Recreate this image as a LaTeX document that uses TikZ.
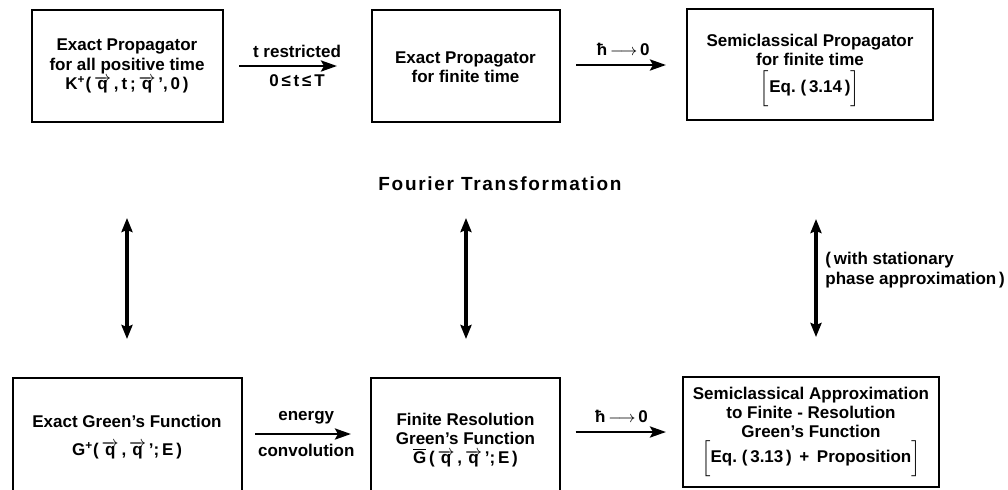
\documentclass[tikz,border=0pt]{standalone}
\usepackage{fontspec}
\setmainfont{Liberation Sans}
\usetikzlibrary{arrows.meta,calc}
\newcommand\vq{\ensuremath{\overrightarrow{\mbox{q}}}}
\newcommand\hto{ħ\,\(\longrightarrow\)\,0}
\tikzset{
  boxnode/.style={draw, line width=1pt, align=center, inner sep=0pt,
    font={\fontsize{8.5}{9.6}\selectfont\bfseries}},
  lbl/.style={font={\fontsize{8.5}{9}\selectfont\bfseries}, inner sep=0pt},
  arr/.style={line width=1.4pt, -{Stealth[length=8pt,width=5.5pt,inset=1.5pt]}},
  dbl/.style={line width=1.6pt, {Stealth[length=7pt,width=5.5pt,inset=1pt]}-{Stealth[length=7pt,width=5.5pt,inset=1pt]}}
}
\begin{document}
\begin{tikzpicture}[x=0.5pt,y=-0.5pt]
\clip (0,0) rectangle (1008,489);
\fill[white] (0,0) rectangle (1008,489);
% top row
\node[boxnode, minimum width=95.5pt, minimum height=56pt] (b1) at (127,66)
  {Exact Propagator\\for all positive time\\K\textsuperscript{+}(\,\vq\,,\,t\,;\,\vq\,',\,0\,)};
\node[boxnode, minimum width=94pt, minimum height=56pt] (b2) at (465.5,66)
  {\rule{0pt}{7pt}Exact Propagator\\for finite time};
\node[boxnode, minimum width=123pt, minimum height=55.5pt] (b3) at (810,64.5)
  {\rule{0pt}{12pt}Semiclassical Propagator\\for finite time\\[1pt]\(\Big[\)Eq.\ (\,3.14\,)\(\Big]\)};
% bottom row
\node[boxnode, minimum width=114.5pt, minimum height=59pt] (b4) at (127,437)
  {Exact Green’s Function\\[4pt]G\textsuperscript{+}(\,\vq\,,\,\vq\,';\,E\,)};
\node[boxnode, minimum width=94.5pt, minimum height=62pt] (b5) at (465.5,440)
  {Finite Resolution\\Green’s Function\\\(\overline{\mbox{G}}\)\,(\,\vq\,,\,\vq\,';\,E\,)};
\node[boxnode, minimum width=128pt, minimum height=55pt] (b6) at (811,432)
  {Semiclassical Approximation\\to Finite - Resolution\\Green’s Function\\\(\Big[\)Eq.\ (\,3.13\,) \,+\, Proposition\(\Big]\)};
% middle labels
\node[font={\fontsize{9.5}{11}\selectfont\bfseries\addfontfeature{LetterSpace=9}}] (ft) at (500,184) {Fourier Transformation};
\node[lbl, anchor=west, align=left, font={\fontsize{8.5}{10}\selectfont\bfseries}] (sp) at (825,270) {(\,with stationary\\phase approximation\,)};
% horizontal arrows
\draw[arr, shorten <=7.75pt, shorten >=16.75pt] (b1.east) -- (b2.west)
  node[lbl, midway, yshift=7.5pt] {t restricted}
  node[lbl, midway, yshift=-7.5pt] {0\,≤\,t\,≤\,T};
\coordinate (a2) at ([yshift=0.5pt]b2.east);
\draw[arr, shorten <=7.75pt, shorten >=10pt] (a2) -- (a2 -| b3.west)
  node[lbl, midway, yshift=8pt] {\hto};
\coordinate (a3) at ([yshift=1.5pt]b4.east);
\draw[arr, shorten <=6.25pt, shorten >=9.5pt] (a3) -- (a3 -| b5.west)
  node[lbl, midway, yshift=8pt] {energy}
  node[lbl, midway, yshift=-8pt] {convolution};
\coordinate (a4) at (b6.west -| b5.east);
\draw[arr, shorten <=7.25pt, shorten >=8pt] (a4) -- (b6.west)
  node[lbl, midway, yshift=8pt] {\hto};
% vertical arrows
\coordinate (v1t) at ($(b1.south)+(0,95)$);
\coordinate (v1b) at ($(b4.north)+(0,-38)$);
\draw[dbl] (v1t) -- (v1b);
\coordinate (v2t) at ($(b2.south)+(0.5,95)$);
\coordinate (v2b) at ($(b5.north)+(0.5,-38)$);
\draw[dbl] (v2t) -- (v2b);
\coordinate (v3t) at ($(b3.south)+(6,98)$);
\coordinate (v3b) at ($(b6.north)+(5,-39)$);
\draw[dbl] (v3t) -- (v3b);
\end{tikzpicture}
\end{document}
